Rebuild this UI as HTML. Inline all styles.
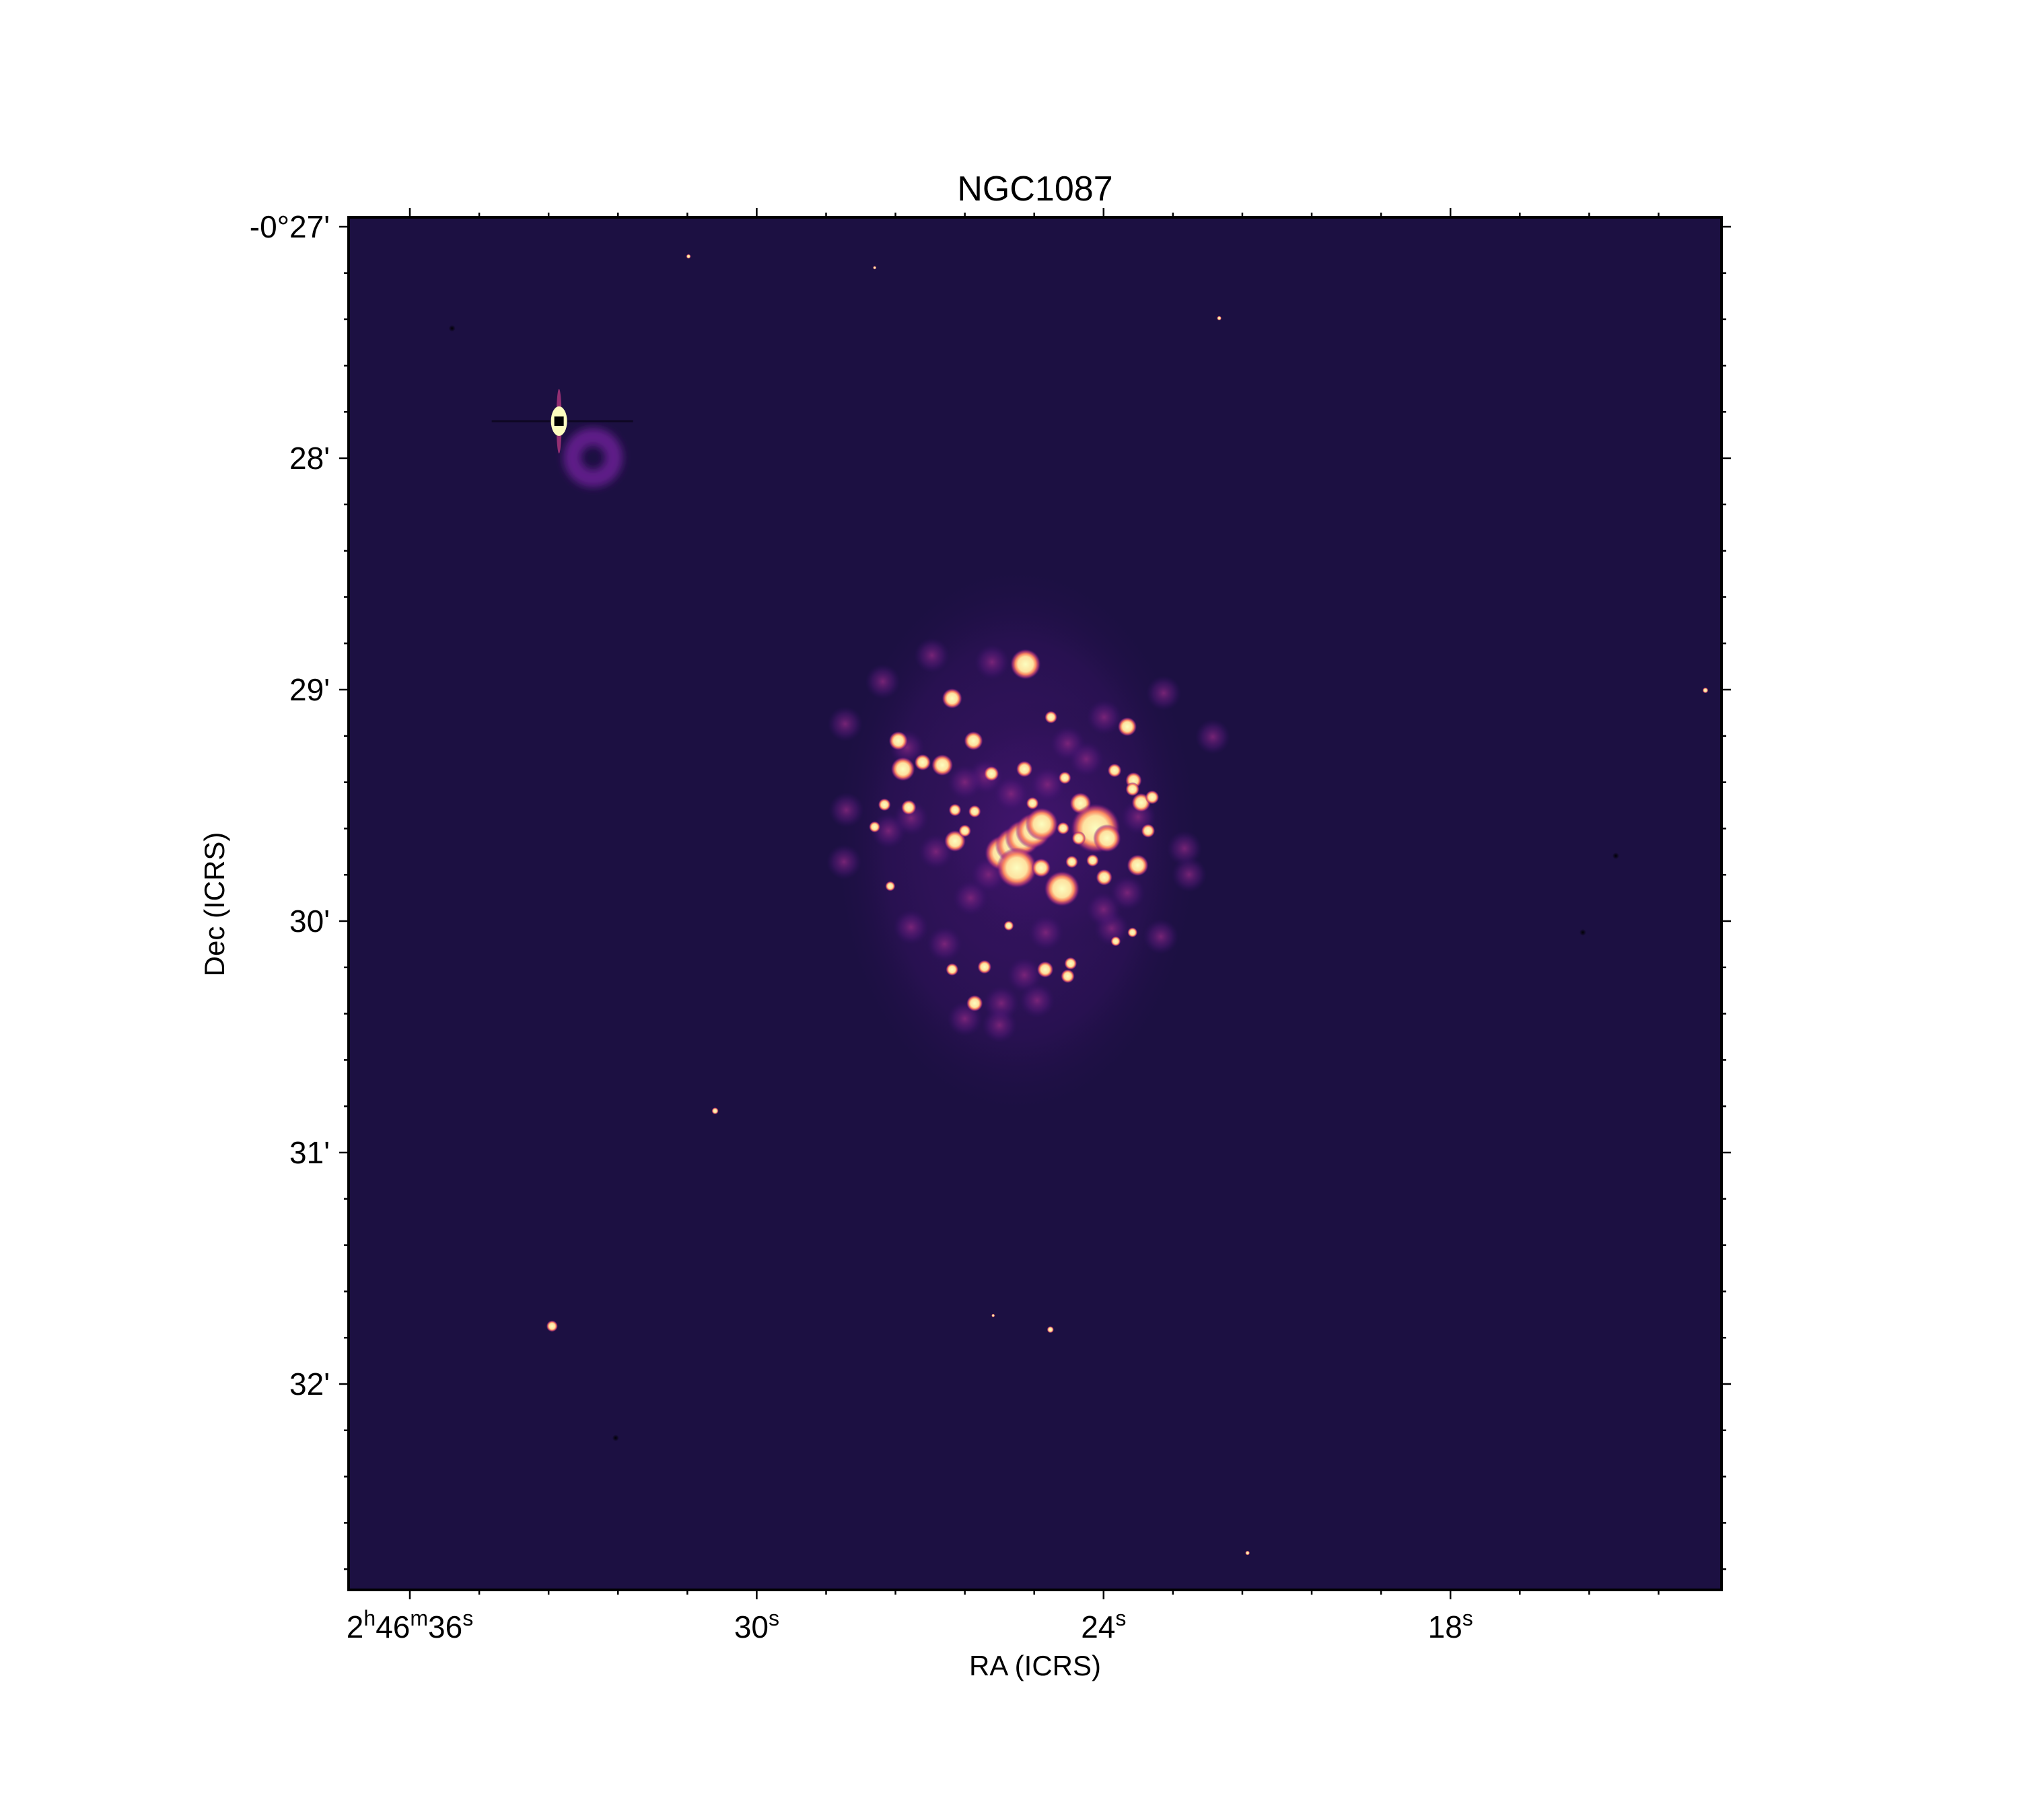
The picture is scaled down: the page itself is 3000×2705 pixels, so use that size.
<!DOCTYPE html>
<html><head><meta charset="utf-8"><style>
html,body{margin:0;padding:0;background:#fff;}
svg text{font-family:"Liberation Sans","DejaVu Sans",sans-serif;fill:#000;}
</style></head><body>
<svg id="fig" xmlns="http://www.w3.org/2000/svg" width="3000" height="2700" viewBox="0 0 3000 2700">
<defs>
<radialGradient id="gBright"><stop offset="0" stop-color="#fcfdbf"/><stop offset="0.5" stop-color="#fde2a0"/><stop offset="0.68" stop-color="#fb8861"/><stop offset="0.85" stop-color="#b73779" stop-opacity="0.7"/><stop offset="1" stop-color="#51127c" stop-opacity="0"/></radialGradient>
<radialGradient id="gFaint"><stop offset="0" stop-color="#8c2981" stop-opacity="0.8"/><stop offset="0.6" stop-color="#5f1a80" stop-opacity="0.4"/><stop offset="1" stop-color="#3b0f70" stop-opacity="0"/></radialGradient>
<radialGradient id="gDiffuse"><stop offset="0" stop-color="#4a1677" stop-opacity="0.75"/><stop offset="0.7" stop-color="#34125f" stop-opacity="0.5"/><stop offset="1" stop-color="#1c1042" stop-opacity="0"/></radialGradient>
<radialGradient id="gDark"><stop offset="0" stop-color="#000004"/><stop offset="1" stop-color="#000004" stop-opacity="0"/></radialGradient>
<filter id="blur6" x="-100%" y="-100%" width="300%" height="300%"><feGaussianBlur stdDeviation="6"/></filter>
<clipPath id="plotClip"><rect x="518" y="323" width="2040" height="2040"/></clipPath>
</defs>
<rect x="518" y="323" width="2040" height="2040" fill="#1c1042"/>
<g id="imageLayer" clip-path="url(#plotClip)"></g>
<rect x="518" y="323" width="2040" height="2040" fill="none" stroke="#000" stroke-width="4"/>
<g id="ticks"></g>
<text x="1538" y="298" font-size="52" text-anchor="middle">NGC1087</text>
<text x="1538" y="2490" font-size="42" text-anchor="middle">RA (ICRS)</text>
<text x="333" y="1344" font-size="42" text-anchor="middle" transform="rotate(-90 333 1344)">Dec (ICRS)</text>
</svg>
<script>
// Axis data (RA seconds past 2h46m, Dec arcmin below -0°)
const raMajorTicks = [36, 30, 24, 18];
const raMajorLabels = ["2h46m36s", "30s", "24s", "18s"];
const decMajorTicks = [27, 28, 29, 30, 31, 32];
const decMajorLabels = ["-0°27'", "28'", "29'", "30'", "31'", "32'"];
// Bright HII regions
const brightRA = [25.35,26.62,27.55,27.47,26.79,27.13,26.25,23.59,25.37,25.94,23.48,23.50,23.35,23.16,24.40,25.75,25.57,25.40,25.22,25.07,25.50,24.14,23.94,24.72,25.08,23.41,23.99,26.57,27.79,27.37,27.96,26.57,26.23,26.40,23.23,24.55,24.19,24.91,24.67,25.23,26.06,25.01,24.62,24.57,26.23,26.62,25.64,27.69,23.79,23.50,23.81,24.70,24.43];
const brightDec = [28.890,29.038,29.221,29.343,29.326,29.314,29.221,29.160,29.343,29.363,29.392,29.430,29.488,29.465,29.491,29.706,29.672,29.640,29.610,29.581,29.770,29.599,29.642,29.860,29.770,29.759,29.811,29.654,29.497,29.509,29.593,29.520,29.526,29.610,29.610,29.744,29.738,29.119,29.381,29.491,30.198,30.209,30.238,30.183,30.355,30.209,30.020,29.849,30.087,30.049,29.349,29.599,29.642];
const brightSize = [2.4,1.6,1.5,1.9,1.7,1.3,1.5,1.5,1.3,1.2,1.3,1.1,1.5,1.1,1.7,2.8,2.8,2.8,2.8,2.6,3.2,3.9,2.2,2.8,1.5,1.7,1.3,1.7,1.0,1.2,0.9,1.0,1.0,1.0,1.1,1.0,1.0,1.0,1.0,1.0,1.1,1.3,1.1,1.0,1.3,1.0,0.8,0.8,0.8,0.8,1.1,1.0,1.1];
// Faint clumps
const faintRA = [25.93,26.97,27.82,28.47,28.45,28.49,27.33,26.75,25.37,25.77,25.15,23.86,23.01,22.96,22.11,22.60,22.52,24.62,23.99,26.04,24.97,25.99,23.59,26.40,27.72,27.33,26.40,25.60,24.30,26.90,27.40,25.00,24.00,23.40,26.30,25.80];
const faintDec = [28.881,28.852,28.965,29.148,29.520,29.744,30.026,30.099,30.233,30.355,30.343,30.032,30.067,29.015,29.204,29.686,29.799,29.233,29.119,29.375,29.410,29.799,29.878,30.422,29.610,29.555,29.400,29.450,29.300,29.700,29.250,30.050,29.950,29.550,29.900,30.450];
// Field stars
const starRA = [33.54,30.72,24.92,13.59,21.51,31.18,27.96,22.00,25.91];
const starDec = [31.750,30.820,31.765,29.003,32.730,27.128,27.177,27.395,31.704];
const starSize = [1.0,0.6,0.6,0.5,0.4,0.4,0.3,0.4,0.3];
const darkRA = [35.27,15.14,15.71,32.44];
const darkDec = [27.439,29.718,30.049,32.233];
// Saturated star with ghost ring
const satRA = [33.42];
const satDec = [27.840];
const ringRA = [32.83];
const ringDec = [27.997];

const PX_PER_S = 85.9, PX_PER_ARCMIN = 344, PX_PER_ARCSEC = 344/60;
function xRA(s){ return 609 + (36 - s) * PX_PER_S; }
function yDec(d){ return 337 + (d - 27) * PX_PER_ARCMIN; }
const NS = "http://www.w3.org/2000/svg";
function mk(tag, attrs, parent){ const e = document.createElementNS(NS, tag); for (const k in attrs) e.setAttribute(k, attrs[k]); parent.appendChild(e); return e; }

const img = document.getElementById('imageLayer');
const disk = mk('ellipse', {cx: xRA(25.5), cy: yDec(29.65), rx: 280, ry: 420, fill: 'url(#gDiffuse)'}, img);


const core = mk('ellipse', {cx: xRA(25.0), cy: yDec(29.6), rx: 190, ry: 190, fill: 'url(#gDiffuse)', opacity: 0.6}, img);



faintRA.forEach((s, i) => {
  const c = mk('circle', {cx: xRA(s), cy: yDec(faintDec[i]), r: 26, fill: 'url(#gFaint)'}, img);
  
  
});
brightRA.forEach((s, i) => {
  const r = brightSize[i] * PX_PER_ARCSEC * 1.65;
  const c = mk('circle', {cx: xRA(s), cy: yDec(brightDec[i]), r: r, fill: 'url(#gBright)'}, img);
  
  
});
starRA.forEach((s, i) => {
  const r = starSize[i] * PX_PER_ARCSEC * 1.5;
  const c = mk('circle', {cx: xRA(s), cy: yDec(starDec[i]), r: r, fill: 'url(#gBright)'}, img);
  
  
});
darkRA.forEach((s, i) => {
  const c = mk('circle', {cx: xRA(s), cy: yDec(darkDec[i]), r: 5, fill: 'url(#gDark)'}, img);
  
  
});
const ring = mk('circle', {cx: xRA(ringRA[0]), cy: yDec(ringDec[0]), r: 31, fill: 'none', stroke: '#5e1d88', 'stroke-width': 26, filter: 'url(#blur6)'}, img);


const sx = xRA(satRA[0]), sy = yDec(satDec[0]);
const bar = mk('line', {x1: sx - 100, y1: sy, x2: sx + 110, y2: sy, stroke: '#050210', 'stroke-width': 3, opacity: 0.6}, img);


const spike = mk('ellipse', {cx: sx, cy: sy, rx: 4, ry: 48, fill: '#a8357a', opacity: 0.85}, img);


const sat = mk('ellipse', {cx: sx, cy: sy, rx: 12, ry: 22, fill: '#fcfdbf'}, img);


const hole = mk('rect', {x: sx - 7, y: sy - 7, width: 14, height: 14, fill: '#000'}, img);



const tk = document.getElementById('ticks');
const L = 518, R = 2558, T = 323, B = 2363;
function tickLine(x1, y1, x2, y2, name){
  const l = mk('line', {x1, y1, x2, y2, stroke: '#000', 'stroke-width': 2.5}, tk);
  
  
}
for (let k = -2; k < 20; k++) {
  const s = 36 - k * 1.2;
  const x = xRA(s);
  if (x < L + 2 || x > R - 2) continue;
  const major = (k % 5 === 0);
  const len = major ? 14 : 7;
  tickLine(x, B, x, B + len, major ? 'x-major-tick' : 'x-minor-tick');
  tickLine(x, T, x, T - len, major ? 'x-major-tick-top' : 'x-minor-tick-top');
}
for (let k = 0; k < 30; k++) {
  const d = 27 + k * 0.2;
  const y = yDec(d);
  if (y < T + 2 || y > B - 2) continue;
  const major = (k % 5 === 0);
  const len = major ? 14 : 7;
  tickLine(L, y, L - len, y, major ? 'y-major-tick' : 'y-minor-tick');
  tickLine(R, y, R + len, y, major ? 'y-major-tick-right' : 'y-minor-tick-right');
}
raMajorTicks.forEach((s, i) => {
  const t = mk('text', {x: xRA(s), y: 2434, 'font-size': 46, 'text-anchor': 'middle'}, tk);
  
  
  const parts = raMajorLabels[i].match(/(\d+[hms])/g);
  parts.forEach(p => {
    const num = mk('tspan', {}, t); num.textContent = p.slice(0, -1);
    const sup = mk('tspan', {'font-size': 32, dy: -18}, t); sup.textContent = p.slice(-1);
    const back = mk('tspan', {dy: 18}, t); back.textContent = '\u200b';
  });
});
decMajorTicks.forEach((d, i) => {
  const t = mk('text', {x: 490, y: yDec(d) + 16, 'font-size': 46, 'text-anchor': 'end'}, tk);
  
  
  t.textContent = decMajorLabels[i];
});
</script>
</body></html>
